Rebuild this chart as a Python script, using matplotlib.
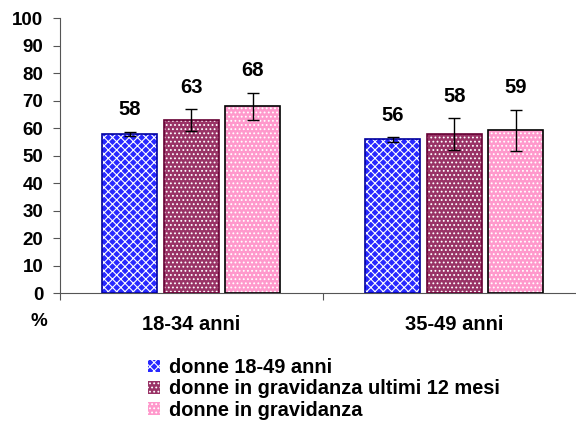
import numpy as np
import matplotlib
matplotlib.use("Agg")
import matplotlib.pyplot as plt
from matplotlib.patches import Patch

plt.rcParams['font.family'] = ['Liberation Sans', 'DejaVu Sans']
plt.rcParams['font.weight'] = 'bold'
plt.rcParams['hatch.linewidth'] = 0.8

categories = ['18-34 anni', '35-49 anni']
series_names = ['donne 18-49 anni',
                'donne in gravidanza ultimi 12 mesi',
                'donne in gravidanza']
values = [
    [57.9, 55.9],   # donne 18-49 anni
    [62.9, 57.8],   # in gravidanza ultimi 12 mesi
    [67.9, 59.2],   # in gravidanza
]
errors = [
    [0.8, 0.8],
    [3.9, 5.8],
    [5.0, 7.4],
]
y_ticks = [0, 10, 20, 30, 40, 50, 60, 70, 80, 90, 100]

fills = ['#2828ff', '#993366', '#ff99cc']
edges = ['#0000a0', '#660033', '#000000']
hatches = ['xxxx', '....', '....']

fig = plt.figure(figsize=(5.76, 4.21), dpi=100)
ax = fig.add_axes([0.104, 0.304, 0.913, 0.653])

x = np.arange(len(categories)) + 0.5
width = 0.209
step = 0.234

for i in range(len(series_names)):
    xs = x + (i - 1) * step
    ax.bar(xs, values[i], width, color=fills[i], hatch=hatches[i],
           edgecolor='white', linewidth=0, zorder=2)
    ax.bar(xs, values[i], width, fill=False, edgecolor=edges[i],
           linewidth=1.2, zorder=3)
    ax.errorbar(xs, values[i], yerr=errors[i], fmt='none', ecolor='black',
                elinewidth=1, capsize=4, capthick=1, zorder=4)
    for xv, v, e in zip(xs, values[i], errors[i]):
        ax.annotate('%.0f' % v, (xv, v + e), xytext=(0, 9),
                    textcoords='offset points', ha='center', va='bottom',
                    fontsize=14.5, fontweight='bold')

ax.set_xlim(0, 2)
ax.set_ylim(0, 100)
ax.set_yticks(y_ticks)
ax.tick_params(axis='y', labelsize=13.5, length=5, width=0.8, color='#555555', pad=7)
ax.set_xticks([0, 1, 2])
ax.set_xticklabels([])
ax.set_xticks(x, minor=True)
ax.set_xticklabels(categories, minor=True, fontsize=14.5, fontweight='bold')
ax.tick_params(axis='x', which='major', length=5, width=0.8, color='#555555')
ax.tick_params(axis='x', which='minor', length=0, pad=16)
for s in ['top', 'right']:
    ax.spines[s].set_visible(False)
for s in ['left', 'bottom']:
    ax.spines[s].set_color('#555555')
    ax.spines[s].set_linewidth(0.8)

fig.text(39 / 576, 1 - 322 / 421, '%', ha='center', va='center',
         fontsize=13.5, fontweight='bold')

handles = [Patch(facecolor=fills[i], hatch=hatches[i], edgecolor='white', linewidth=0)
           for i in range(len(series_names))]
fig.legend(handles, series_names, loc='upper left',
           bbox_to_anchor=(140 / 576, 1 - 350 / 421), frameon=False,
           fontsize=14.4, handlelength=0.6, handleheight=0.6,
           handletextpad=0.45, labelspacing=0.12, borderaxespad=0)

fig.savefig('out.png', dpi=100)
